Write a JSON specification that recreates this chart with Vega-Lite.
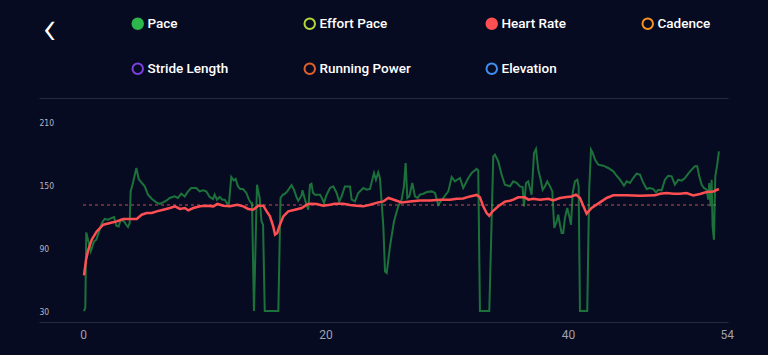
{
  "$schema": "https://vega.github.io/schema/vega-lite/v6.json",
  "width": 689,
  "height": 224,
  "autosize": {"type": "none"},
  "padding": {"left": 39, "top": 98, "right": 40, "bottom": 33},
  "background": "#070b22",
  "config": {"view": {"stroke": null}},
  "datasets": {
    "pace": [
      {"t": 0.08, "v": 30}, {"t": 0.19, "v": 33.2}, {"t": 0.27, "v": 105.3}, {"t": 0.64, "v": 87.1}, {"t": 0.91, "v": 96.6},
      {"t": 1.10, "v": 98.3}, {"t": 1.29, "v": 105.0}, {"t": 1.57, "v": 114.5}, {"t": 1.79, "v": 118.1}, {"t": 2.06, "v": 117.4},
      {"t": 2.33, "v": 119.0}, {"t": 2.56, "v": 120.0}, {"t": 2.75, "v": 111.7}, {"t": 2.94, "v": 111.0}, {"t": 3.11, "v": 117.4},
      {"t": 3.38, "v": 115.8}, {"t": 3.57, "v": 112.6}, {"t": 3.71, "v": 110.4}, {"t": 3.85, "v": 114.3}, {"t": 3.93, "v": 144.5},
      {"t": 4.12, "v": 152.6}, {"t": 4.40, "v": 166.9}, {"t": 4.59, "v": 156.4}, {"t": 4.81, "v": 153.1}, {"t": 5.09, "v": 149.3},
      {"t": 5.36, "v": 141.4}, {"t": 5.69, "v": 137.2}, {"t": 6.05, "v": 134.0}, {"t": 6.33, "v": 132.5}, {"t": 6.60, "v": 134.0},
      {"t": 6.87, "v": 135.6}, {"t": 7.15, "v": 138.2}, {"t": 7.56, "v": 139.7}, {"t": 7.83, "v": 138.2}, {"t": 8.11, "v": 142.3},
      {"t": 8.39, "v": 139.7}, {"t": 8.66, "v": 144.5}, {"t": 8.93, "v": 147.8}, {"t": 9.34, "v": 147.8}, {"t": 9.62, "v": 144.5},
      {"t": 9.90, "v": 145.5}, {"t": 10.17, "v": 144.5}, {"t": 10.45, "v": 139.2}, {"t": 10.72, "v": 137.2}, {"t": 10.86, "v": 141.4},
      {"t": 11.05, "v": 136.6}, {"t": 11.27, "v": 139.2}, {"t": 11.49, "v": 136.6}, {"t": 11.69, "v": 136.6}, {"t": 11.90, "v": 132.7},
      {"t": 12.04, "v": 133.4}, {"t": 12.23, "v": 158.3}, {"t": 12.43, "v": 155.1}, {"t": 12.59, "v": 156.4}, {"t": 12.78, "v": 149.3},
      {"t": 12.97, "v": 146.8}, {"t": 13.20, "v": 146.8}, {"t": 13.47, "v": 143.0}, {"t": 13.69, "v": 136.6}, {"t": 13.86, "v": 133.4},
      {"t": 13.94, "v": 133.4}, {"t": 14.10, "v": 30}, {"t": 14.35, "v": 150.9}, {"t": 14.43, "v": 146.1}, {"t": 14.57, "v": 138.2},
      {"t": 14.72, "v": 116.0}, {"t": 14.85, "v": 112.6}, {"t": 14.99, "v": 30}, {"t": 16.11, "v": 30}, {"t": 16.29, "v": 138.2},
      {"t": 16.49, "v": 141.4}, {"t": 16.63, "v": 142.0}, {"t": 16.85, "v": 144.5}, {"t": 17.20, "v": 150.4}, {"t": 17.40, "v": 146.1},
      {"t": 17.59, "v": 139.7}, {"t": 17.75, "v": 135.6}, {"t": 18.02, "v": 140.4}, {"t": 18.10, "v": 145.7}, {"t": 18.35, "v": 134.9},
      {"t": 18.58, "v": 127.0}, {"t": 18.72, "v": 150.9}, {"t": 18.84, "v": 151.9}, {"t": 18.97, "v": 143.3}, {"t": 19.13, "v": 141.4},
      {"t": 19.55, "v": 141.4}, {"t": 19.75, "v": 137.1}, {"t": 19.88, "v": 133.4}, {"t": 20.06, "v": 140.4}, {"t": 20.37, "v": 147.8},
      {"t": 20.64, "v": 149.3}, {"t": 20.92, "v": 143.0}, {"t": 21.13, "v": 134.9}, {"t": 21.33, "v": 139.7}, {"t": 21.60, "v": 149.3},
      {"t": 22.02, "v": 149.3}, {"t": 22.16, "v": 136.6}, {"t": 22.43, "v": 134.9}, {"t": 22.70, "v": 143.0}, {"t": 23.12, "v": 147.8},
      {"t": 23.40, "v": 146.1}, {"t": 23.67, "v": 146.8}, {"t": 24.00, "v": 162.1}, {"t": 24.16, "v": 155.7}, {"t": 24.35, "v": 162.7},
      {"t": 24.49, "v": 157.3}, {"t": 24.77, "v": 111.0}, {"t": 24.91, "v": 67.9}, {"t": 25.05, "v": 66.4}, {"t": 25.32, "v": 91.9},
      {"t": 25.65, "v": 115.8}, {"t": 26.00, "v": 130.2}, {"t": 26.28, "v": 136.6}, {"t": 26.47, "v": 149.3}, {"t": 26.61, "v": 171.7},
      {"t": 26.75, "v": 138.2}, {"t": 26.91, "v": 139.7}, {"t": 27.16, "v": 152.6}, {"t": 27.38, "v": 139.7}, {"t": 27.60, "v": 138.2},
      {"t": 27.79, "v": 141.4}, {"t": 28.07, "v": 142.3}, {"t": 28.35, "v": 143.9}, {"t": 28.76, "v": 144.5}, {"t": 29.03, "v": 143.0},
      {"t": 29.30, "v": 131.8}, {"t": 29.71, "v": 138.2}, {"t": 30.13, "v": 144.5}, {"t": 30.41, "v": 158.3}, {"t": 30.68, "v": 154.1},
      {"t": 31.09, "v": 157.3}, {"t": 31.36, "v": 147.8}, {"t": 31.78, "v": 157.3}, {"t": 32.06, "v": 162.1}, {"t": 32.47, "v": 166.0},
      {"t": 32.60, "v": 164.6}, {"t": 32.74, "v": 30}, {"t": 33.51, "v": 30}, {"t": 33.84, "v": 178.0}, {"t": 33.98, "v": 179.7},
      {"t": 34.25, "v": 173.2}, {"t": 34.53, "v": 160.5}, {"t": 34.80, "v": 150.9}, {"t": 35.22, "v": 149.3}, {"t": 35.49, "v": 154.1},
      {"t": 35.77, "v": 152.6}, {"t": 36.04, "v": 149.3}, {"t": 36.26, "v": 148.7}, {"t": 36.37, "v": 130.2}, {"t": 36.54, "v": 152.6},
      {"t": 36.72, "v": 154.1}, {"t": 37.00, "v": 141.4}, {"t": 37.20, "v": 181.3}, {"t": 37.36, "v": 185.1}, {"t": 37.55, "v": 165.3},
      {"t": 37.75, "v": 155.7}, {"t": 37.91, "v": 146.1}, {"t": 38.10, "v": 149.3}, {"t": 38.29, "v": 154.1}, {"t": 38.52, "v": 149.3},
      {"t": 38.71, "v": 144.5}, {"t": 38.87, "v": 109.5}, {"t": 39.07, "v": 115.8}, {"t": 39.20, "v": 122.2}, {"t": 39.34, "v": 112.6},
      {"t": 39.48, "v": 104.7}, {"t": 39.61, "v": 104.7}, {"t": 39.75, "v": 119.0}, {"t": 39.94, "v": 128.6}, {"t": 40.11, "v": 120.6},
      {"t": 40.25, "v": 112.6}, {"t": 40.39, "v": 143.0}, {"t": 40.58, "v": 154.1}, {"t": 40.77, "v": 155.7}, {"t": 40.88, "v": 149.3},
      {"t": 40.99, "v": 30}, {"t": 41.59, "v": 30}, {"t": 41.75, "v": 146.1}, {"t": 41.90, "v": 184.4}, {"t": 42.04, "v": 181.3},
      {"t": 42.23, "v": 174.9}, {"t": 42.50, "v": 170.1}, {"t": 42.91, "v": 169.1}, {"t": 43.32, "v": 166.9}, {"t": 43.74, "v": 163.7},
      {"t": 44.01, "v": 159.5}, {"t": 44.29, "v": 155.7}, {"t": 44.62, "v": 150.0}, {"t": 44.84, "v": 154.1}, {"t": 45.11, "v": 152.6},
      {"t": 45.38, "v": 157.3}, {"t": 45.66, "v": 161.5}, {"t": 45.94, "v": 160.5}, {"t": 46.16, "v": 154.1}, {"t": 46.49, "v": 146.8},
      {"t": 46.76, "v": 147.8}, {"t": 47.04, "v": 146.8}, {"t": 47.26, "v": 143.6}, {"t": 47.45, "v": 146.1}, {"t": 47.73, "v": 145.5},
      {"t": 48.00, "v": 155.7}, {"t": 48.27, "v": 159.5}, {"t": 48.55, "v": 158.9}, {"t": 48.82, "v": 150.9}, {"t": 49.10, "v": 155.7},
      {"t": 49.38, "v": 154.8}, {"t": 49.65, "v": 157.3}, {"t": 49.92, "v": 161.5}, {"t": 50.20, "v": 165.3}, {"t": 50.47, "v": 168.5},
      {"t": 50.66, "v": 168.5}, {"t": 50.83, "v": 158.9}, {"t": 51.03, "v": 150.9}, {"t": 51.22, "v": 147.8}, {"t": 51.44, "v": 146.1},
      {"t": 51.57, "v": 136.6}, {"t": 51.65, "v": 152.6}, {"t": 51.77, "v": 130.2}, {"t": 51.85, "v": 155.7}, {"t": 51.93, "v": 111.0},
      {"t": 52.04, "v": 98.3}, {"t": 52.15, "v": 158.9}, {"t": 52.31, "v": 170.1}, {"t": 52.45, "v": 182.8}
    ],
    "hr": [
      {"t": 0.08, "v": 64.1}, {"t": 0.25, "v": 79.1}, {"t": 0.44, "v": 88.7}, {"t": 0.72, "v": 98.3}, {"t": 1.13, "v": 106.2},
      {"t": 1.67, "v": 112.6}, {"t": 2.23, "v": 114.3}, {"t": 2.78, "v": 115.8}, {"t": 3.32, "v": 118.1}, {"t": 3.88, "v": 118.1},
      {"t": 4.43, "v": 118.1}, {"t": 4.84, "v": 122.2}, {"t": 5.25, "v": 123.8}, {"t": 5.67, "v": 123.8}, {"t": 6.08, "v": 125.4},
      {"t": 6.62, "v": 127.0}, {"t": 7.18, "v": 128.6}, {"t": 7.59, "v": 130.2}, {"t": 8.00, "v": 127.7}, {"t": 8.41, "v": 128.6},
      {"t": 8.68, "v": 126.3}, {"t": 9.10, "v": 128.6}, {"t": 9.65, "v": 130.2}, {"t": 10.20, "v": 130.8}, {"t": 10.75, "v": 130.2},
      {"t": 11.08, "v": 132.5}, {"t": 11.57, "v": 130.8}, {"t": 12.12, "v": 130.2}, {"t": 12.73, "v": 131.8}, {"t": 13.22, "v": 130.2},
      {"t": 13.63, "v": 127.7}, {"t": 14.04, "v": 127.0}, {"t": 14.46, "v": 130.8}, {"t": 14.87, "v": 130.8}, {"t": 15.15, "v": 125.4},
      {"t": 15.42, "v": 120.6}, {"t": 15.69, "v": 111.0}, {"t": 15.84, "v": 103.1}, {"t": 16.02, "v": 104.7}, {"t": 16.19, "v": 111.0},
      {"t": 16.52, "v": 120.6}, {"t": 16.93, "v": 125.4}, {"t": 17.48, "v": 127.0}, {"t": 18.04, "v": 128.6}, {"t": 18.45, "v": 131.8},
      {"t": 18.72, "v": 132.7}, {"t": 19.27, "v": 132.5}, {"t": 19.82, "v": 130.8}, {"t": 20.37, "v": 131.8}, {"t": 20.78, "v": 132.7},
      {"t": 21.47, "v": 132.7}, {"t": 22.02, "v": 131.5}, {"t": 22.57, "v": 130.8}, {"t": 23.12, "v": 130.2}, {"t": 23.67, "v": 131.8},
      {"t": 24.35, "v": 134.0}, {"t": 24.77, "v": 134.9}, {"t": 25.18, "v": 138.2}, {"t": 25.46, "v": 137.2}, {"t": 25.87, "v": 135.6},
      {"t": 26.28, "v": 134.0}, {"t": 26.97, "v": 134.9}, {"t": 27.79, "v": 135.9}, {"t": 28.62, "v": 135.9}, {"t": 29.44, "v": 136.6},
      {"t": 30.27, "v": 136.6}, {"t": 30.82, "v": 137.5}, {"t": 31.36, "v": 137.8}, {"t": 31.92, "v": 139.7}, {"t": 32.47, "v": 141.1},
      {"t": 32.74, "v": 138.8}, {"t": 33.01, "v": 130.2}, {"t": 33.29, "v": 123.8}, {"t": 33.51, "v": 121.2}, {"t": 33.79, "v": 125.4},
      {"t": 34.25, "v": 130.2}, {"t": 34.80, "v": 134.7}, {"t": 35.22, "v": 135.6}, {"t": 35.49, "v": 136.6}, {"t": 35.90, "v": 138.8},
      {"t": 36.45, "v": 138.8}, {"t": 36.73, "v": 136.6}, {"t": 37.14, "v": 137.5}, {"t": 37.69, "v": 136.6}, {"t": 38.38, "v": 137.5},
      {"t": 38.79, "v": 135.9}, {"t": 39.34, "v": 138.2}, {"t": 39.89, "v": 139.2}, {"t": 40.30, "v": 139.7}, {"t": 40.66, "v": 141.4},
      {"t": 40.99, "v": 138.2}, {"t": 41.26, "v": 130.8}, {"t": 41.54, "v": 123.2}, {"t": 41.95, "v": 128.6}, {"t": 42.64, "v": 134.0},
      {"t": 43.19, "v": 138.2}, {"t": 43.74, "v": 140.7}, {"t": 44.84, "v": 140.7}, {"t": 45.94, "v": 140.4}, {"t": 47.18, "v": 140.7},
      {"t": 47.59, "v": 142.3}, {"t": 48.14, "v": 143.0}, {"t": 48.69, "v": 142.3}, {"t": 49.24, "v": 142.3}, {"t": 49.79, "v": 143.0},
      {"t": 50.33, "v": 140.7}, {"t": 50.89, "v": 142.0}, {"t": 51.44, "v": 143.9}, {"t": 51.99, "v": 144.5}, {"t": 52.45, "v": 146.8}
    ],
    "avg": [{"start": 0, "end": 52.45, "hr": 131.5}]
  },
  "layer": [
    {
      "data": {"name": "avg"},
      "mark": {"type": "rule", "strokeDash": [3, 3], "strokeWidth": 1, "color": "#e25a5e", "opacity": 0.85},
      "encoding": {
        "x": {"field": "start", "type": "quantitative", "scale": {"domain": [-3.63, 53.2], "nice": false, "zero": false}},
        "x2": {"field": "end"},
        "y": {"field": "hr", "type": "quantitative"}
      }
    },
    {
      "data": {"name": "pace"},
      "mark": {"type": "line", "strokeWidth": 2, "strokeOpacity": 0.6},
      "encoding": {
        "x": {"field": "t", "type": "quantitative",
              "axis": {"orient": "bottom", "values": [0, 20, 40, 53.1], "labelExpr": "datum.value > 50 ? '54' : datum.label", "title": null, "grid": false, "ticks": false, "domainColor": "#262b42", "domainWidth": 1, "labelColor": "#9ea1ae", "labelFontSize": 12, "labelFont": "Roboto", "labelPadding": 7, "labelFlush": false}},
        "y": {"field": "v", "type": "quantitative", "scale": {"domain": [19.5, 233.9], "nice": false, "zero": false},
              "axis": {"values": [30, 90, 150, 210, 233.9], "labelExpr": "datum.value > 220 ? '' : datum.label", "grid": true,
                       "title": "‹", "titleAngle": 0, "titleX": 3, "titleY": -69, "titleAlign": "left", "titleBaseline": "middle",
                       "titleFontSize": 48, "titleFont": "Roboto", "titleFontWeight": 300, "titleColor": "#ffffff",
                       "gridColor": "#262b42", "gridWidth": 1,
                       "gridOpacity": {"condition": {"test": "datum.value > 220", "value": 1}, "value": 0},
                       "ticks": false, "tickSize": 0, "domain": false, "labelAlign": "left", "labelPadding": 0, "labelColor": "#b4b6c2", "labelFontSize": 8.5, "labelFont": "DejaVu Sans Condensed, Roboto"}},
        "color": {"datum": "Pace", "type": "nominal",
          "scale": {"domain": ["Pace", "Effort Pace", "Heart Rate", "Cadence", "Stride Length", "Running Power", "Elevation"],
                    "range": ["#2cb64c", "#b9d63a", "#ff4f52", "#f7931e", "#7d3fe0", "#e0602c", "#3f8ff0"]},
          "legend": {"orient": "none", "legendX": 92, "legendY": -81, "direction": "horizontal", "columns": 4, "columnPadding": 71, "rowPadding": 26,
                     "symbolType": "circle", "symbolSize": 110, "symbolStrokeWidth": 2, "labelColor": "#ffffff", "labelFont": "Roboto",
                     "labelFontSize": 13.5, "labelFontWeight": 500, "labelOffset": 3, "title": null, "padding": 0, "labelLimit": 300, "gridAlign": "each",
                     "encode": {"symbols": {"update": {
                        "fill": {"signal": "indexof(['Pace','Heart Rate'], datum.value) >= 0 ? scale('color', datum.value) : 'transparent'"},
                        "stroke": {"signal": "scale('color', datum.value)"},
                        "strokeWidth": {"value": 2},
                        "opacity": {"value": 1}, "strokeOpacity": {"value": 1}, "fillOpacity": {"value": 1}}}}}
        }
      }
    },
    {
      "data": {"name": "hr"},
      "mark": {"type": "line", "strokeWidth": 2.5},
      "encoding": {
        "x": {"field": "t", "type": "quantitative"},
        "y": {"field": "v", "type": "quantitative"},
        "color": {"datum": "Heart Rate", "type": "nominal"}
      }
    }
  ]
}
